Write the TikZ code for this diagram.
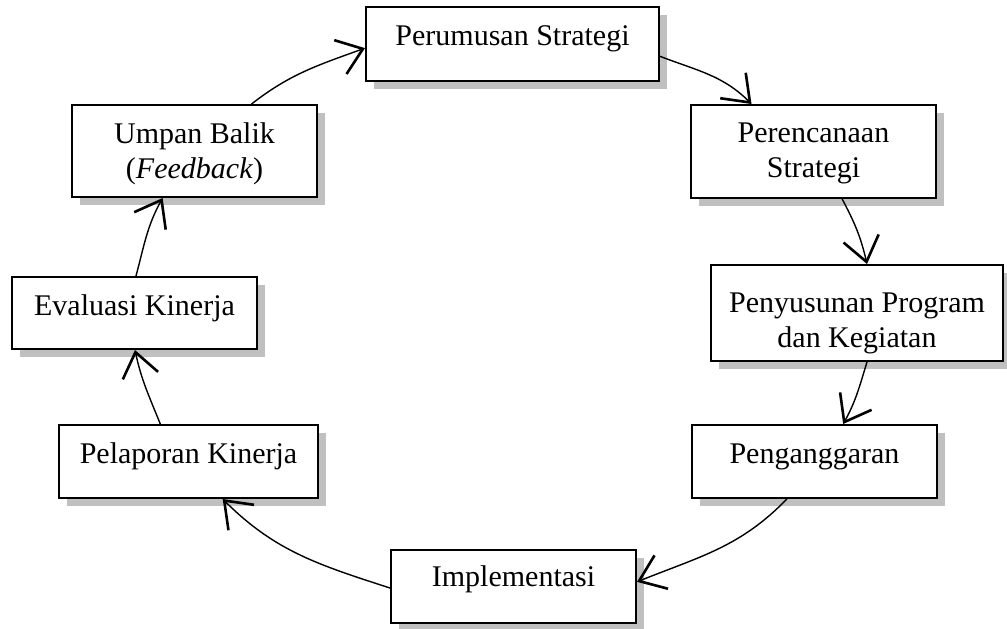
\documentclass[tikz,border=0pt]{standalone}
\usepackage{fontspec}
\setmainfont{Liberation Serif}
\usetikzlibrary{arrows.meta,shadows,calc}
\definecolor{shadowgray}{RGB}{192,192,192}
\begin{document}
\begin{tikzpicture}[x=0.5pt,y=0.5pt,
  box/.style={draw, line width=1pt, fill=white, rectangle,
    inner xsep=4pt, inner ysep=0pt, align=center,
    font=\fontsize{15}{17.5}\selectfont,
    general shadow={fill=shadowgray, shadow xshift=4pt, shadow yshift=-4pt}},
  flow/.style={line width=0.7pt,
    -{Straight Barb[length=12pt,width=18pt,line width=1.3pt]}}]
\useasboundingbox (0,0) rectangle (1007,-628);

% stages of the cycle
\node[box, minimum width=146.5pt, minimum height=37pt, text height=4pt, text depth=3pt]
  (per) at (512.5,-44) {Perumusan Strategi};
\node[box, minimum width=122.5pt, minimum height=46.5pt, text height=28.5pt, text depth=3pt]
  (pcs) at (813.5,-151.5) {Perencanaan\\Strategi};
\node[box, minimum width=146pt, minimum height=48pt, text height=37pt, text depth=3pt]
  (pny) at (857,-313) {Penyusunan Program\\dan Kegiatan};
\node[box, minimum width=122.5pt, minimum height=36.5pt, text height=5pt, text depth=3pt]
  (pgg) at (814.5,-461.5) {Penganggaran};
\node[box, minimum width=122.5pt, minimum height=36.5pt, text height=3pt, text depth=3pt]
  (imp) at (513.5,-586.5) {Implementasi};
\node[box, minimum width=129.5pt, minimum height=36.5pt, text height=5pt, text depth=3pt]
  (plp) at (188.5,-461.5) {Pelaporan Kinerja};
\node[box, minimum width=122.5pt, minimum height=36pt, text height=5pt, text depth=3pt]
  (evl) at (134.5,-313) {Evaluasi Kinerja};
\node[box, minimum width=122.5pt, minimum height=46pt, text height=30pt, text depth=3pt]
  (umb) at (194.5,-151) {Umpan Balik\\(\textit{Feedback})};

% connectors around the cycle
\draw[flow] ($(umb.north west)!0.731!(umb.north east)$) to[out=38,in=200]
  ($(per.north west)!0.554!(per.south west)$);
\draw[flow] ($(per.north east)!0.662!(per.south east)$) to[out=-21,in=135]
  ($(pcs.north west)!0.249!(pcs.north east)$);
\draw[flow] ($(pcs.south west)!0.616!(pcs.south east)$) to[out=-62,in=103]
  ($(pny.north west)!0.534!(pny.north east)$);
\draw[flow] ($(pny.south west)!0.534!(pny.south east)$) to[out=-107,in=61]
  ($(pgg.north west)!0.616!(pgg.north east)$);
\draw[flow] ($(pgg.south west)!0.388!(pgg.south east)$) to[out=-134,in=22]
  ($(imp.north east)!0.438!(imp.south east)$);
\draw[flow] ($(imp.north west)!0.52!(imp.south west)$) to[out=162,in=-45]
  ($(plp.south west)!0.631!(plp.south east)$);
\draw[flow] ($(plp.north west)!0.392!(plp.north east)$) to[out=112,in=-78]
  ($(evl.south west)!0.502!(evl.south east)$);
\draw[flow] ($(evl.north west)!0.506!(evl.north east)$) to[out=75,in=-119]
  ($(umb.south west)!0.371!(umb.south east)$);
\end{tikzpicture}
\end{document}
